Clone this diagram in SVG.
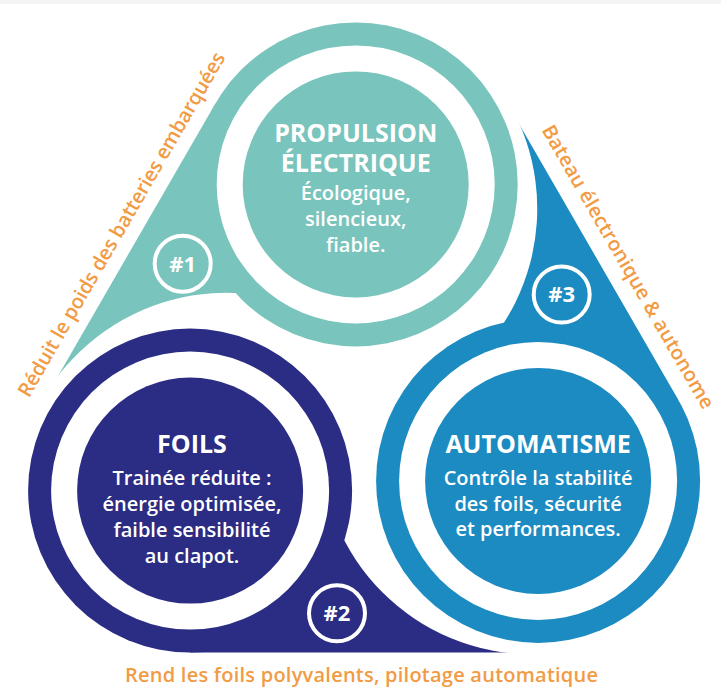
<svg xmlns="http://www.w3.org/2000/svg" width="721" height="695" viewBox="0 0 721 695">
<style>
.teal{fill:#79c4bc}
.navy{fill:#2b2c83}
.blue{fill:#1c8bc1}
.ring{fill:#ffffff}
.title{font-family:"Open Sans","Liberation Sans",sans-serif;font-weight:700;font-size:25px;fill:#ffffff;text-anchor:middle}
.body{font-family:"Open Sans","Liberation Sans",sans-serif;font-weight:600;font-size:20px;fill:#ffffff;text-anchor:middle}
.badge{fill:none;stroke:#ffffff;stroke-width:4}
.num{font-family:"Open Sans","Liberation Sans",sans-serif;font-weight:700;font-size:22px;fill:#ffffff;text-anchor:middle}
.note{font-family:"Open Sans","Liberation Sans",sans-serif;font-weight:600;font-size:20px;fill:#f29b45}
</style>
<defs>
<mask id="tailMask" maskUnits="userSpaceOnUse" x="-500" y="-500" width="2000" height="2000">
<rect x="-500" y="-500" width="2000" height="2000" fill="#ffffff"/>
<circle cx="532.3" cy="442.4" r="212" fill="#000000"/>
</mask>
<path id="tail" d="M190.1,652.6 L540,652.6 L538.1,480.9 L190.1,490.6 Z" mask="url(#tailMask)"/>
</defs>
<rect x="0" y="0" width="721" height="4" fill="#f3f4f4"/>

<g id="node-propulsion">
<use href="#tail" class="teal" transform="rotate(120 361.3 385.3)"/>
<circle cx="355.7" cy="184.4" r="162" class="teal"/>
<circle cx="355.7" cy="184.4" r="139" class="ring"/>
<circle cx="355.7" cy="184.4" r="113" class="teal"/>
<text x="355.7" y="142" class="title">PROPULSION</text>
<text x="355.7" y="172" class="title">ÉLECTRIQUE</text>
<text x="355.7" y="200" class="body">Écologique,</text>
<text x="355.7" y="226" class="body">silencieux,</text>
<text x="355.7" y="252" class="body">fiable.</text>
<circle cx="182.7" cy="263.7" r="28" class="badge"/>
<text x="182.7" y="271.5" class="num">#1</text>
</g>

<g id="node-foils">
<use href="#tail" class="navy"/>
<circle cx="190.1" cy="490.6" r="162" class="navy"/>
<circle cx="190.1" cy="490.6" r="139" class="ring"/>
<circle cx="190.1" cy="490.6" r="113" class="navy"/>
<text x="192" y="453" class="title">FOILS</text>
<text x="192" y="485" class="body">Trainée réduite :</text>
<text x="192" y="511" class="body">énergie optimisée,</text>
<text x="192" y="537" class="body">faible sensibilité</text>
<text x="192" y="563" class="body">au clapot.</text>
<circle cx="337" cy="613.3" r="28" class="badge"/>
<text x="337" y="621.1" class="num">#2</text>
</g>

<g id="node-automatisme">
<use href="#tail" class="blue" transform="rotate(240 361.3 385.3)"/>
<circle cx="538.1" cy="480.9" r="162" class="blue"/>
<circle cx="538.1" cy="480.9" r="139" class="ring"/>
<circle cx="538.1" cy="480.9" r="113" class="blue"/>
<text x="538.1" y="453" class="title">AUTOMATISME</text>
<text x="538.1" y="485" class="body">Contrôle la stabilité</text>
<text x="538.1" y="511" class="body">des foils, sécurité</text>
<text x="538.1" y="536" class="body">et performances.</text>
<circle cx="561.7" cy="294.5" r="28" class="badge"/>
<text x="561.7" y="302.3" class="num">#3</text>
</g>

<g id="captions">
<text class="note" transform="translate(28.9 398.5) rotate(-60)" textLength="394" lengthAdjust="spacing">Réduit le poids des batteries embarquées</text>
<text class="note" transform="translate(541.2 130) rotate(60)" textLength="324" lengthAdjust="spacing">Bateau électronique &amp; autonome</text>
<text class="note" x="125" y="682" textLength="473" lengthAdjust="spacing">Rend les foils polyvalents, pilotage automatique</text>
</g>
</svg>
